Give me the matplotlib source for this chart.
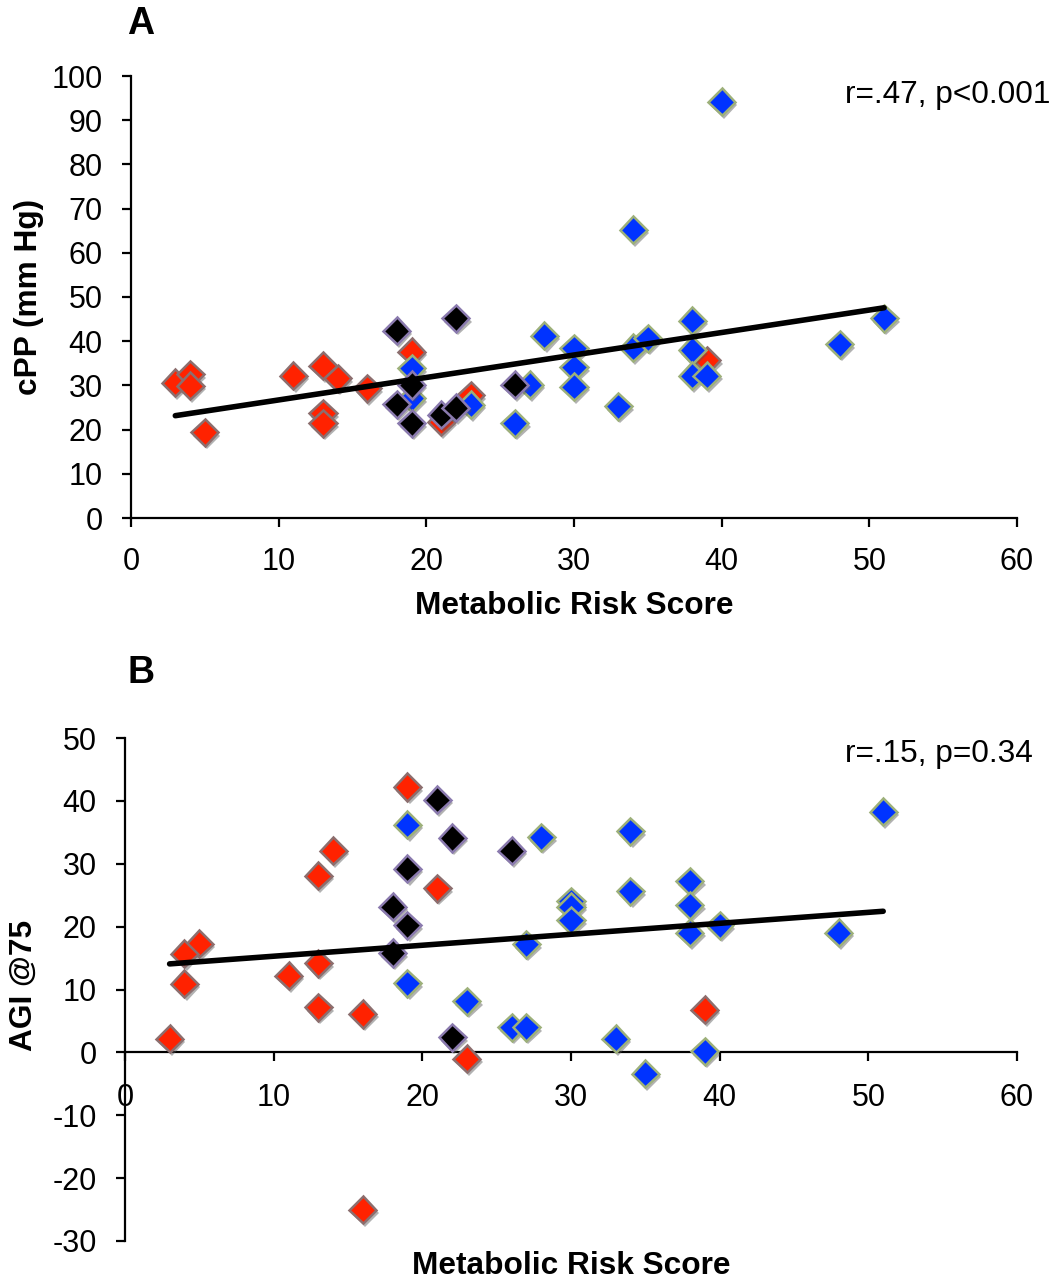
import numpy as np
import matplotlib
matplotlib.use("Agg")
import matplotlib.pyplot as plt
import matplotlib.patheffects as pe

plt.rcParams['font.family'] = ['Liberation Sans', 'DejaVu Sans']
plt.rcParams['axes.unicode_minus'] = False

# ---------------- Panel A data: cPP (mm Hg) ----------------
a_red_x = [3, 4, 4, 5, 11, 13, 14, 16, 13, 13, 19, 21, 23, 39]
a_red_y = [30.6, 32.5, 29.9, 19.4, 32.2, 34.5, 31.6, 29.3, 23.7, 21.4, 37.6, 21.8, 27.8, 35.7]
a_blue_x = [19, 19, 23, 27, 26, 28, 30, 30, 30, 33, 34, 35, 38, 38, 38, 39, 40, 34, 51, 48]
a_blue_y = [33.9, 27.1, 25.6, 30.2, 21.4, 41.2, 38.4, 34.1, 29.7, 25.3, 38.5, 40.7, 44.6, 38.0,
            32.2, 32.2, 94.2, 65.2, 45.2, 39.3]
a_black_x = [18, 19, 18, 19, 21, 22, 22, 26]
a_black_y = [42.4, 30.1, 25.7, 21.4, 23.4, 45.2, 25.0, 30.2]

# ---------------- Panel B data: AGI @75 ----------------
b_red_x = [19, 14, 13, 21, 5, 4, 4, 3, 11, 13, 13, 16, 23, 39, 16]
b_red_y = [42.2, 32.1, 28.1, 26.1, 17.3, 15.7, 10.9, 2.2, 12.2, 14.2, 7.2, 6.1, -1.0, 6.8, -25.0]
b_blue_x = [19, 19, 23, 28, 34, 34, 30, 30, 30, 38, 38, 38, 40, 27, 26, 27, 33, 39, 35, 51, 48]
b_blue_y = [36.2, 11.0, 8.1, 34.2, 35.2, 25.6, 24.0, 23.2, 21.0, 27.2, 23.4, 19.0, 20.2, 17.2,
            4.0, 4.0, 2.2, 0.2, -3.4, 38.3, 19.0]
b_black_x = [21, 22, 19, 18, 19, 18, 22, 26]
b_black_y = [40.2, 34.1, 29.2, 23.2, 20.2, 15.8, 2.4, 32.1]

a_stats = "r=.47, p<0.001"
b_stats = "r=.15, p=0.34"
x_ticks = [0, 10, 20, 30, 40, 50, 60]
a_y_ticks = list(range(0, 101, 10))
b_y_ticks = list(range(-30, 51, 10))

W, H = 1055, 1283
fig = plt.figure(figsize=(W / 100, H / 100), dpi=100)

def fx(px):
    return px / W

def fy(py):
    return 1 - py / H

styles = [
    ('#FF2200', '#8C6E6E'),   # red
    ('#0033FF', '#9DB07A'),   # blue
    ('#000000', '#8A7AAE'),   # black
]

shadow = [pe.SimplePatchShadow(offset=(1.5, -2.5), shadow_rgbFace='#555555', alpha=0.45),
          pe.Normal()]

TICK_FS = 22
LABEL_FS = 22.8

def draw_panel(ax, groups):
    for (xs, ys), (fc, ec) in zip(groups, styles):
        ax.plot(xs, ys, linestyle='none', marker='D', markersize=13.8,
                markerfacecolor=fc, markeredgecolor=ec, markeredgewidth=1.8,
                path_effects=shadow, zorder=3)
    allx = np.concatenate([np.asarray(g[0], float) for g in groups])
    ally = np.concatenate([np.asarray(g[1], float) for g in groups])
    k, b = np.polyfit(allx, ally, 1)
    xl = np.array([allx.min(), allx.max()])
    ax.plot(xl, k * xl + b, color='black', lw=4, solid_capstyle='round', zorder=5)
    for s in ['top', 'right']:
        ax.spines[s].set_visible(False)
    for s in ['left', 'bottom']:
        ax.spines[s].set_linewidth(1.6)
    ax.tick_params(direction='out', length=6.8, width=1.6, labelsize=TICK_FS)
    ax.set_xticks(x_ticks)
    ax.set_xlim(0, 60)

# Panel A
axA = fig.add_axes([fx(131), fy(518), fx(1017) - fx(131), fy(76) - fy(518)])
draw_panel(axA, [(a_red_x, a_red_y), (a_blue_x, a_blue_y), (a_black_x, a_black_y)])
axA.set_ylim(0, 100)
axA.set_yticks(a_y_ticks)
axA.tick_params(axis='x', pad=14)
axA.tick_params(axis='y', pad=13.5)

# Panel B
axB = fig.add_axes([fx(125), fy(1241), fx(1017) - fx(125), fy(738) - fy(1241)])
draw_panel(axB, [(b_red_x, b_red_y), (b_blue_x, b_blue_y), (b_black_x, b_black_y)])
axB.set_ylim(-30, 50)
axB.set_yticks(b_y_ticks)
axB.spines['bottom'].set_position(('data', 0))
axB.tick_params(axis='x', pad=15.5)
axB.tick_params(axis='y', pad=13.5)

# Texts
fig.text(fx(127), fy(24), 'A', fontsize=27, fontweight='bold', ha='left', va='center')
fig.text(fx(127), fy(673), 'B', fontsize=27, fontweight='bold', ha='left', va='center')
fig.text(fx(574), fy(606), 'Metabolic Risk Score', fontsize=LABEL_FS, fontweight='bold',
         ha='center', va='center')
fig.text(fx(571), fy(1266), 'Metabolic Risk Score', fontsize=LABEL_FS, fontweight='bold',
         ha='center', va='center')
fig.text(fx(29), fy(297), 'cPP (mm Hg)', fontsize=LABEL_FS, fontweight='bold', rotation=90,
         ha='center', va='center')
fig.text(fx(24), fy(985), 'AGI @75', fontsize=LABEL_FS, fontweight='bold', rotation=90,
         ha='center', va='center')
fig.text(fx(845), fy(95), a_stats, fontsize=LABEL_FS, ha='left', va='center')
fig.text(fx(845), fy(754), b_stats, fontsize=LABEL_FS, ha='left', va='center')

fig.savefig('out.png', dpi=100)
